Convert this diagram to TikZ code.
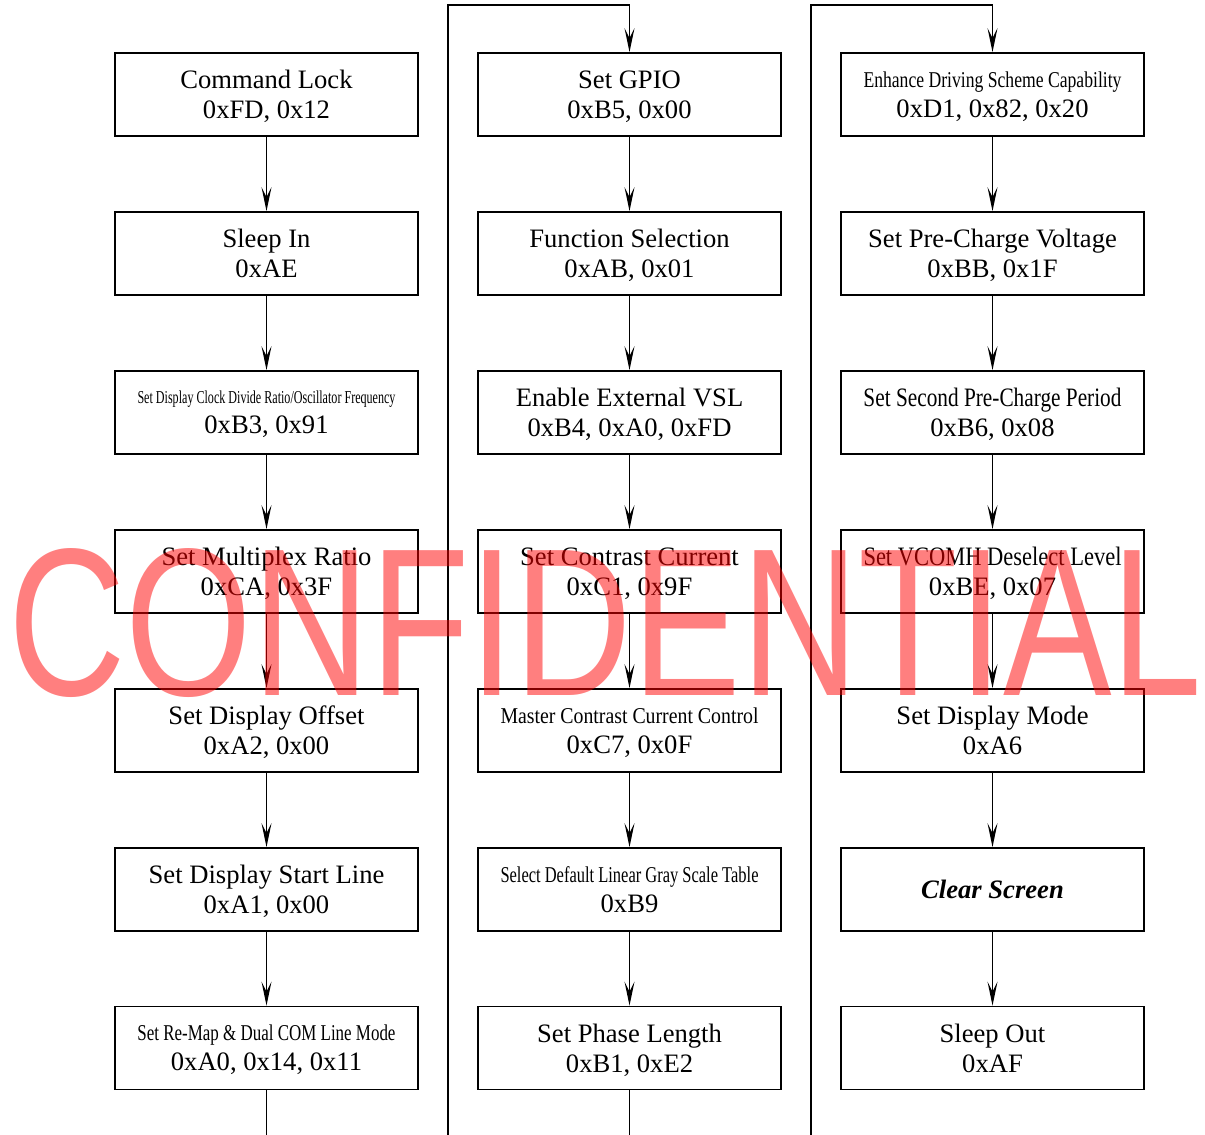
\documentclass[tikz,border=0pt]{standalone}
\usepackage{fontspec}
\setmainfont{Liberation Serif}
\newfontfamily\markfont{Liberation Sans}
\usepackage{graphicx}
\usetikzlibrary{arrows.meta}

\tikzset{
  cmd/.style={draw, rectangle, line width=0.9pt, minimum width=151.5pt, minimum height=41.5pt,
    inner sep=0pt, align=center, text depth=0pt, font=\fontsize{13.3}{15}\selectfont},
  flow/.style={line width=0.9pt, -{Stealth[length=12pt,width=5pt,inset=5pt]}},
  wire/.style={line width=0.9pt}
}
\newcommand\squeeze[2][11.3]{\resizebox{129pt}{\height}{\fontsize{#1}{15}\selectfont #2}}

\begin{document}
\begin{tikzpicture}[x=0.5pt,y=-0.5pt]
  \useasboundingbox (0,0) rectangle (1205,1135);
  \coordinate (top) at (0,5); \coordinate (bot) at (0,1135);
  \coordinate (up2) at (448,1135); \coordinate (up3) at (811,1135);
  % left column
  \node[cmd] (lock) at (266.5,94.5) {Command Lock\\0xFD, 0x12};
  \node[cmd] (sleepin) at (266.5,253.5) {Sleep In\\0xAE};
  \node[cmd] (clock) at (266.5,412.5) {\squeeze[9.1]{Set Display Clock Divide Ratio/Oscillator Frequency}\\0xB3, 0x91};
  \node[cmd] (mux) at (266.5,571.5) {Set Multiplex Ratio\\0xCA, 0x3F};
  \node[cmd] (offset) at (266.5,730.5) {Set Display Offset\\0xA2, 0x00};
  \node[cmd] (startline) at (266.5,889.5) {Set Display Start Line\\0xA1, 0x00};
  \node[cmd] (remap) at (266.5,1048) {\squeeze{Set Re-Map \& Dual COM Line Mode}\\0xA0, 0x14, 0x11};
  % middle column
  \node[cmd] (gpio) at (629.5,94.5) {Set GPIO\\0xB5, 0x00};
  \node[cmd] (func) at (629.5,253.5) {Function Selection\\0xAB, 0x01};
  \node[cmd] (vsl) at (629.5,412.5) {Enable External VSL\\0xB4, 0xA0, 0xFD};
  \node[cmd] (contrast) at (629.5,571.5) {Set Contrast Current\\0xC1, 0x9F};
  \node[cmd] (master) at (629.5,730.5) {\squeeze{Master Contrast Current Control}\\0xC7, 0x0F};
  \node[cmd] (gray) at (629.5,889.5) {\squeeze{Select Default Linear Gray Scale Table}\\0xB9};
  \node[cmd] (phase) at (629.5,1048) {Set Phase Length\\0xB1, 0xE2};
  % right column
  \node[cmd] (enhance) at (992.5,94.5) {\squeeze{Enhance Driving Scheme Capability}\\0xD1, 0x82, 0x20};
  \node[cmd] (precharge) at (992.5,253.5) {Set Pre-Charge Voltage\\0xBB, 0x1F};
  \node[cmd] (second) at (992.5,412.5) {\squeeze[13.3]{Set Second Pre-Charge Period}\\0xB6, 0x08};
  \node[cmd] (vcomh) at (992.5,571.5) {\squeeze[13.3]{Set VCOMH Deselect Level}\\0xBE, 0x07};
  \node[cmd] (mode) at (992.5,730.5) {Set Display Mode\\0xA6};
  \node[cmd, text depth=, font=\fontsize{13.3}{15}\selectfont\bfseries\itshape] (clear) at (992.5,889.5) {Clear Screen};
  \node[cmd] (sleepout) at (992.5,1048) {Sleep Out\\0xAF};
  % arrows down each column
  \foreach \a/\b in {lock/sleepin, sleepin/clock, clock/mux, mux/offset, offset/startline, startline/remap,
                     gpio/func, func/vsl, vsl/contrast, contrast/master, master/gray, gray/phase,
                     enhance/precharge, precharge/second, second/vcomh, vcomh/mode, mode/clear, clear/sleepout}
    \draw[flow] (\a) -- (\b);
  % runs off the bottom and back in at the top
  \draw[wire] (remap.south) -- (remap.south |- bot);
  \draw[wire] (phase.south) -- (phase.south |- bot);
  \draw[flow] (up2) -- (up2 |- top) -- (gpio.north |- top) -- (gpio.north);
  \draw[flow] (up3) -- (up3 |- top) -- (enhance.north |- top) -- (enhance.north);
  % watermark
  \node[anchor=base west, inner sep=0pt, text=red, text opacity=0.5] (mark) at (8,695)
    {\resizebox{597pt}{73.5pt}{\fontsize{100}{100}\markfont CONFIDENTIAL}};
\end{tikzpicture}
\end{document}
